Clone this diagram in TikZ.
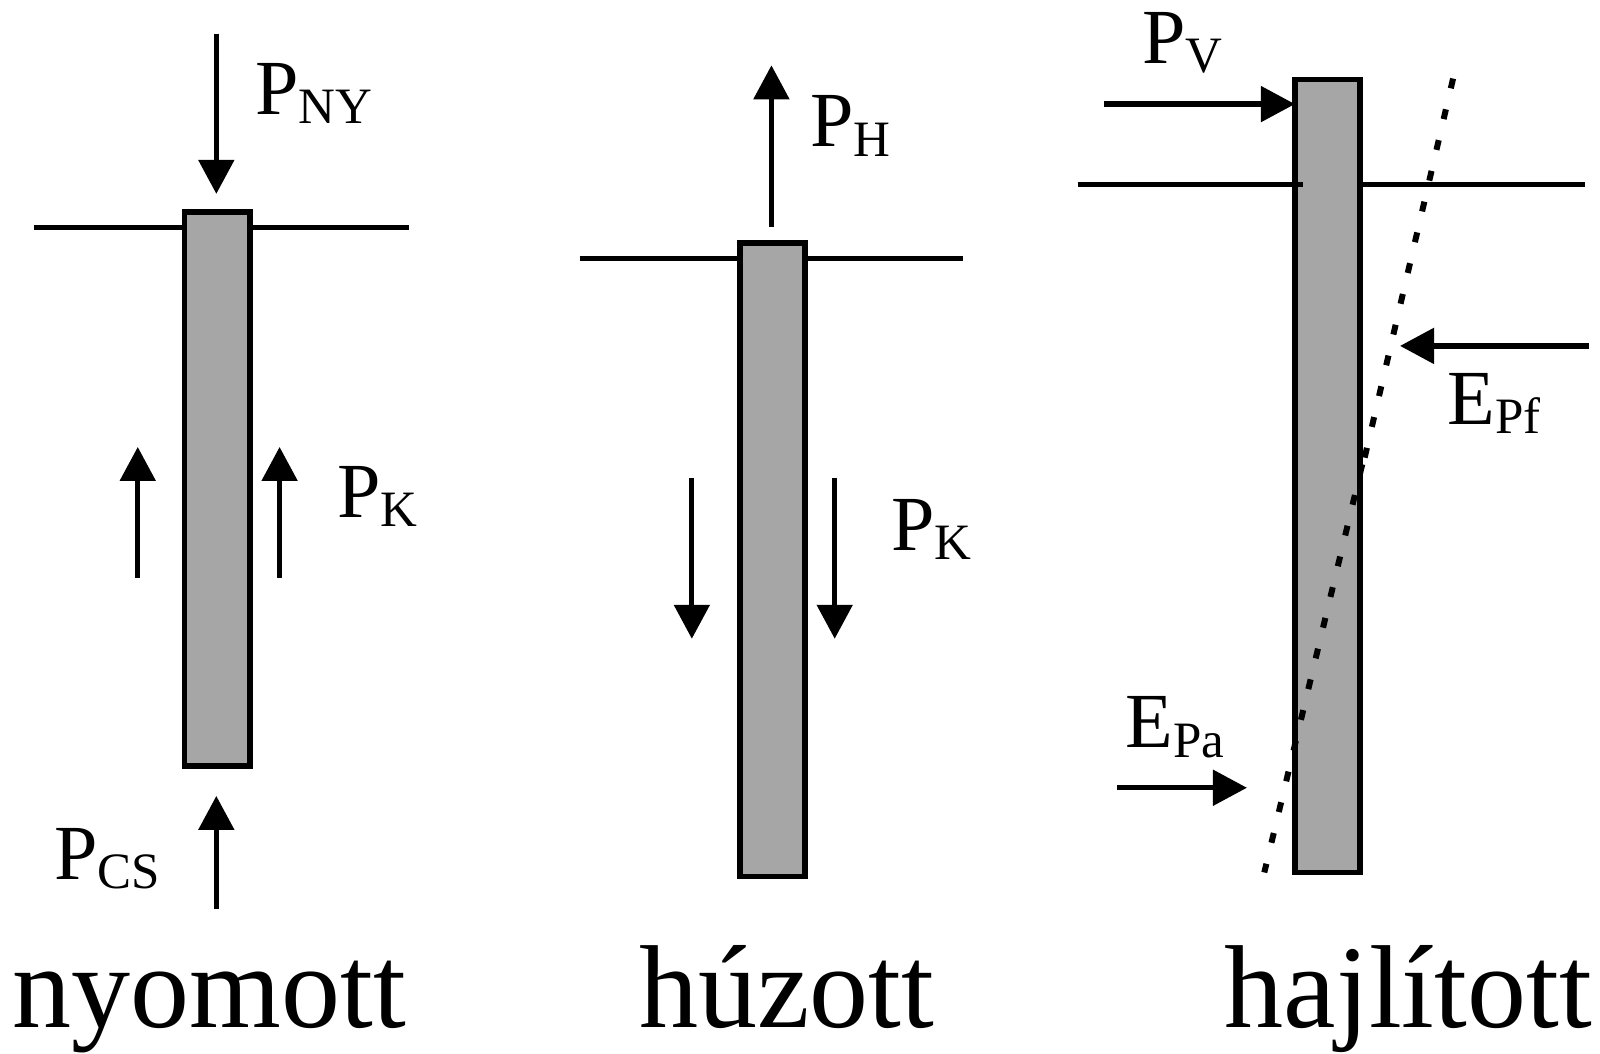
\documentclass[tikz,border=0pt]{standalone}
\usepackage{fontspec}
\setmainfont{Liberation Serif}
\usetikzlibrary{arrows.meta}
\tikzset{
  x=0.5102pt,y=-0.5102pt,
  pile/.style={draw=black,fill=black!35,line width=2.8pt,minimum width=32.6pt,inner sep=0pt,outer sep=0pt,anchor=north west},
  ground/.style={line width=2.5pt,line cap=butt},
  force/.style={line width=2.6pt,-{Triangle[length=17pt,width=17.5pt]}},
  soil/.style={line width=3pt,dash pattern=on 5pt off 10.8pt},
  lab/.style={font=\fontsize{39}{39}\selectfont,inner sep=0pt,anchor=base west},
  captext/.style={font=\fontsize{59}{59}\selectfont,inner sep=0pt,anchor=base west}
}
\newcommand{\sbs}[1]{\raisebox{-4.6pt}{\fontsize{25.5}{25.5}\selectfont #1}}
\begin{document}
\begin{tikzpicture}
\useasboundingbox (0,0) rectangle (1568,1032);
% pile 1
\node[pile,minimum height=277pt] (p1) at (181,207.5) {};
\draw[ground] (33,223) coordinate (g1a) -- (180,223) coordinate (g1b);
\draw[ground] (246,223) coordinate (g1c) -- (401,223) coordinate (g1d);
\coordinate (ny) at (212,33); \coordinate (nyb) at (212,190);
\draw[force] (ny) -- (nyb);
\coordinate (k1) at (135,566); \coordinate (k1b) at (135,438);
\draw[force] (k1) -- (k1b);
\coordinate (k2) at (274,566); \coordinate (k2b) at (274,438);
\draw[force] (k2) -- (k2b);
\coordinate (cs) at (212,891); \coordinate (csb) at (212,780);
\draw[force] (cs) -- (csb);
\node[lab] (lny) at (250,112) {P\sbs{NY}};
\node[lab] (lk1) at (330,507) {P\sbs{K}};
\node[lab] (lcs) at (53,862) {P\sbs{CS}};
\node[captext] (c1) at (12,1007) {nyomott};
% pile 2
\node[pile,minimum height=316.8pt] (p2) at (725,238) {};
\draw[ground] (568,253) coordinate (g2a) -- (724,253) coordinate (g2b);
\draw[ground] (790,253) coordinate (g2c) -- (944,253) coordinate (g2d);
\coordinate (h) at (756,222); \coordinate (hb) at (756,64);
\draw[force] (h) -- (hb);
\coordinate (k3) at (678,468); \coordinate (k3b) at (678,626);
\draw[force] (k3) -- (k3b);
\coordinate (k4) at (818,468); \coordinate (k4b) at (818,626);
\draw[force] (k4) -- (k4b);
\node[lab] (lh) at (794,144) {P\sbs{H}};
\node[lab] (lk2) at (873,539) {P\sbs{K}};
\node[captext] (c2) at (626,1007) {húzott};
% pile 3
\node[pile,minimum height=396.5pt] (p3) at (1269,78) {};
\draw[ground] (1056,181) coordinate (g3a) -- (1277,181) coordinate (g3b);
\draw[ground] (1335,181) coordinate (g3c) -- (1553,181) coordinate (g3d);
\coordinate (d1) at (1424,77); \coordinate (d2) at (1337,450);
\coordinate (d3) at (1335,455); \coordinate (d4) at (1239,855);
\draw[soil] (d1) -- (d2);
\draw[soil] (d3) -- (d4);
\coordinate (v) at (1082,102); \coordinate (vb) at (1269,102);
\draw[force] (v) -- (vb);
\coordinate (pf) at (1557,339); \coordinate (pfb) at (1372,339);
\draw[force] (pf) -- (pfb);
\coordinate (pa) at (1095,772); \coordinate (pab) at (1222,772);
\draw[force] (pa) -- (pab);
\node[lab] (lv) at (1119,62) {P\sbs{V}};
\node[lab] (lf) at (1418,416) {E\sbs{Pf}};
\node[lab] (la) at (1103,733) {E\sbs{Pa}};
\node[captext] (c3) at (1200,1007) {hajlított};
\end{tikzpicture}
\end{document}
